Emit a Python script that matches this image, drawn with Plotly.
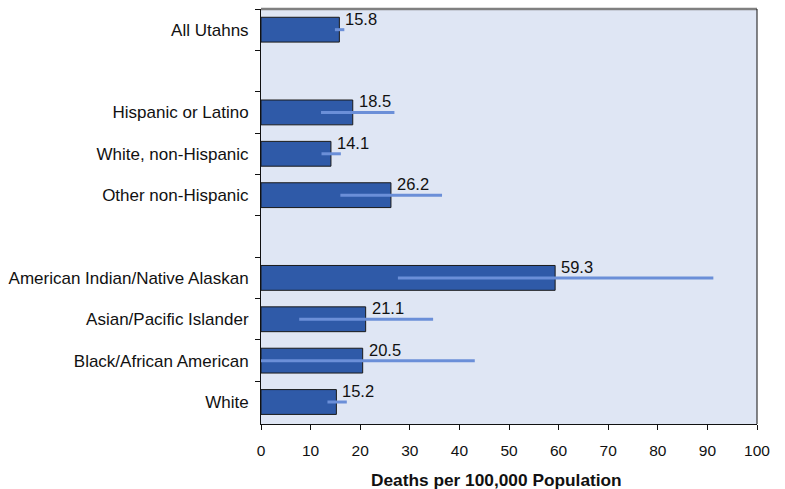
import plotly.graph_objects as go

categories = ["All Utahns", " ", "Hispanic or Latino", "White, non-Hispanic",
              "Other non-Hispanic", "  ", "American Indian/Native Alaskan",
              "Asian/Pacific Islander", "Black/African American", "White"]
rates = [15.8, None, 18.5, 14.1, 26.2, None, 59.3, 21.1, 20.5, 15.2]
ci_low = [14.9, None, 12.1, 12.2, 16.0, None, 27.6, 7.7, 0.0, 13.4]
ci_high = [16.8, None, 26.9, 16.1, 36.5, None, 91.2, 34.7, 43.1, 17.3]
x_ticks = [0, 10, 20, 30, 40, 50, 60, 70, 80, 90, 100]
x_title = "Deaths per 100,000 Population"

err_plus = [(h - r) if r is not None else None for r, h in zip(rates, ci_high)]
err_minus = [(r - l) if r is not None else None for r, l in zip(rates, ci_low)]

fig = go.Figure()
fig.add_trace(go.Bar(
    y=categories, x=rates, orientation="h", width=0.6,
    marker=dict(color="#2f5aa8", line=dict(color="#1a1a1a", width=1)),
    error_x=dict(type="data", array=err_plus, arrayminus=err_minus,
                 symmetric=False, color="#6b8fd8", thickness=3, width=0),
    hoverinfo="x+y",
))

for c, r in zip(categories, rates):
    if r is None:
        continue
    fig.add_annotation(x=r, y=c, text=f"{r:.1f}", showarrow=False,
                       xanchor="left", yanchor="middle", xshift=4, yshift=11,
                       font=dict(size=16.5, color="#111111"))

# x-axis title as annotation for precise placement
fig.add_annotation(x=0.5, y=0, xref="paper", yref="paper", text=f"<b>{x_title}</b>",
                   showarrow=False, xanchor="center", yanchor="middle",
                   xshift=-13, yshift=-56, font=dict(size=17.3, color="#111111"))

# frame lines (top gray, right black)
fig.add_shape(type="line", xref="paper", yref="paper", x0=0, x1=1, y0=1, y1=1,
              line=dict(color="#808080", width=2.5))
fig.add_shape(type="line", xref="paper", yref="paper", x0=1, x1=1, y0=0, y1=1,
              line=dict(color="#111111", width=1))

fig.update_layout(
    width=785, height=489,
    margin=dict(l=261, r=28, t=9, b=65),
    paper_bgcolor="white", plot_bgcolor="#dfe6f4",
    font=dict(family="Liberation Sans, Arial, sans-serif", size=14, color="#111111"),
    showlegend=False,
    bargap=0.4,
)
fig.update_xaxes(
    range=[0, 100], tickvals=x_ticks, showgrid=False, zeroline=False,
    showline=True, linecolor="#111111", linewidth=1,
    ticks="outside", ticklen=5, tickcolor="#111111",
    tickfont=dict(size=15.5), automargin=False, ticklabelstandoff=7,
)
fig.update_yaxes(
    type="category", categoryorder="array", categoryarray=categories,
    autorange="reversed", tickson="boundaries",
    showgrid=False, zeroline=False,
    showline=True, linecolor="#111111", linewidth=1,
    ticks="outside", ticklen=5, tickcolor="#111111", automargin=False,
    tickfont=dict(size=17), ticklabelstandoff=8,
)

fig.write_html("out.html")
